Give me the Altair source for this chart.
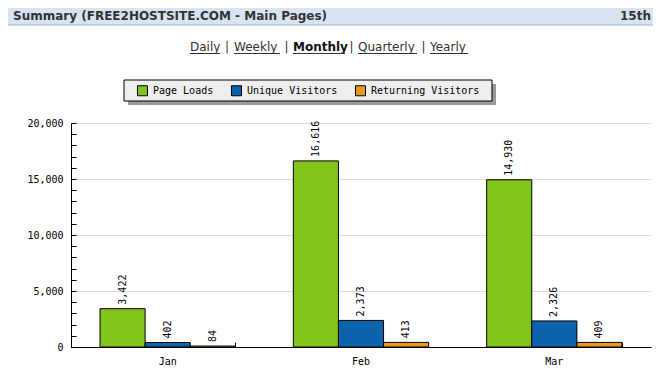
import altair as alt
import pandas as pd

months = ["Jan", "Feb", "Mar"]
series = ["Page Loads", "Unique Visitors", "Returning Visitors"]
page_loads = [3422, 16616, 14930]
unique_visitors = [402, 2373, 2326]
returning_visitors = [84, 413, 409]
colors = ["#80c41c", "#0b62ad", "#e89a1c"]
y_labels = [0, 5000, 10000, 15000, 20000]
y_minor = list(range(0, 20001, 1000))

rows = []
for i, m in enumerate(months):
    for s, vals in zip(series, [page_loads, unique_visitors, returning_visitors]):
        rows.append({"month": m, "series": s, "value": vals[i]})
df = pd.DataFrame(rows)

MONO = "DejaVu Sans Mono"
SANS = "DejaVu Sans"

x_scale = alt.Scale(domain=months, paddingInner=0.3, paddingOuter=0.15)
y_scale = alt.Scale(domain=[0, 20000], nice=False, zero=True)
off_scale = alt.Scale(domain=series, paddingInner=0, paddingOuter=0)

base = alt.Chart(df)

bars = base.mark_bar(stroke="black", strokeWidth=1, opacity=1).encode(
    x=alt.X("month:N", sort=months, scale=x_scale, title=None,
            axis=alt.Axis(orient="bottom", labelAngle=0, ticks=False, tickSize=0,
                          labelPadding=9, domainColor="black", domainWidth=1,
                          labelFont=MONO, labelFontSize=10, labelColor="black",
                          grid=False)),
    xOffset=alt.XOffset("series:N", sort=series, scale=off_scale),
    y=alt.Y("value:Q", scale=y_scale, title=None,
            axis=alt.Axis(orient="left", values=y_labels, format=",.0f", ticks=False,
                          tickSize=0, labelPadding=8, domainColor="black",
                          domainWidth=1, labelFont=MONO, labelFontSize=10,
                          labelColor="black", grid=True, gridColor="#dcdcdc",
                          gridWidth=1)),
    color=alt.Color("series:N", sort=series,
                    scale=alt.Scale(domain=series, range=colors),
                    legend=alt.Legend(orient="none", legendX=66, legendY=-38,
                                      direction="horizontal", title=None,
                                      symbolType="square", symbolSize=100,
                                      symbolStrokeColor="black",
                                      symbolStrokeWidth=1, symbolOpacity=1,
                                      labelFont=MONO, labelFontSize=10,
                                      labelColor="black", labelOffset=5,
                                      columnPadding=15, padding=0)),
)

labels = base.mark_text(angle=270, align="left", baseline="middle", dx=4,
                        font=MONO, fontSize=10, color="black").encode(
    x=alt.X("month:N", sort=months, scale=x_scale, axis=None),
    xOffset=alt.XOffset("series:N", sort=series, scale=off_scale),
    y=alt.Y("value:Q", scale=y_scale, axis=None),
    text=alt.Text("value:Q", format=",.0f"),
)

ticks = base.mark_point(opacity=0).encode(
    x=alt.X("month:N", sort=months, scale=x_scale, title=None,
            axis=alt.Axis(orient="top", offset=-224, labels=False, domain=False,
                          ticks=True, tickSize=5, tickColor="black",
                          bandPosition=1, grid=False)),
    y=alt.Y("value:Q", scale=y_scale, title=None,
            axis=alt.Axis(orient="right", offset=-580, values=y_minor,
                          labels=False, domain=False, ticks=True, tickSize=5,
                          tickColor="black", grid=False)),
)

one = pd.DataFrame({"k": [0]})
deco = alt.Chart(one)

header_bg = deco.mark_rect(fill="#d8e3f4", stroke="#9fb3cc", strokeWidth=1).encode(
    x=alt.value(-67), x2=alt.value(620), y=alt.value(-119), y2=alt.value(-98))
header_txt = deco.mark_text(text="Summary (FREE2HOSTSITE.COM - Main Pages)",
                            align="left", baseline="alphabetic", font=SANS,
                            fontSize=12, fontWeight="bold", color="#333333").encode(
    x=alt.value(-58), y=alt.value(-103))
header_date = deco.mark_text(text="15th", align="right", baseline="alphabetic",
                             font=SANS, fontSize=12, fontWeight="bold",
                             color="#333333").encode(
    x=alt.value(580), y=alt.value(-103))

nav_layers = []
nav_words = [("Daily", 190, 220, False), ("Weekly", 234, 280, False),
             ("Monthly", 293, 345, True), ("Quarterly", 358, 417, False),
             ("Yearly", 430, 468, False)]
for word, x0, x1, bold in nav_words:
    nav_layers.append(deco.mark_text(text=word, align="left", baseline="alphabetic",
                                     font=SANS, fontSize=12,
                                     fontWeight="bold" if bold else "normal",
                                     color="#111111" if bold else "#333333").encode(
        x=alt.value(x0 - 71), y=alt.value(-72)))
    nav_layers.append(deco.mark_rule(stroke="#333333", strokeWidth=1).encode(
        x=alt.value(x0 - 71), x2=alt.value(x1 - 71), y=alt.value(-69.5)))
for (_, _, a, _), (_, b, _, _) in zip(nav_words[:-1], nav_words[1:]):
    nav_layers.append(deco.mark_text(text="|", align="center", baseline="alphabetic",
                                     font=SANS, fontSize=12, color="#333333").encode(
        x=alt.value((a + b) / 2 - 71), y=alt.value(-72)))

legend_shadow = deco.mark_rect(fill="#9a9a9a").encode(
    x=alt.value(57), x2=alt.value(425), y=alt.value(-39), y2=alt.value(-18))
legend_box = deco.mark_rect(fill="#eeeeee", stroke="black", strokeWidth=1).encode(
    x=alt.value(53), x2=alt.value(421), y=alt.value(-43), y2=alt.value(-22))

chart = alt.layer(
    header_bg, header_txt, header_date, *nav_layers, legend_shadow, legend_box,
    bars, labels, ticks
).resolve_axis(x="independent", y="independent").properties(
    width=580, height=224,
    autosize=alt.AutoSizeParams(type="none"),
    padding={"left": 63, "top": 115, "right": 2, "bottom": 26},
    background="white",
).configure_view(stroke=None)

chart.save("out.html", embed_options={"renderer": "svg", "actions": False})
